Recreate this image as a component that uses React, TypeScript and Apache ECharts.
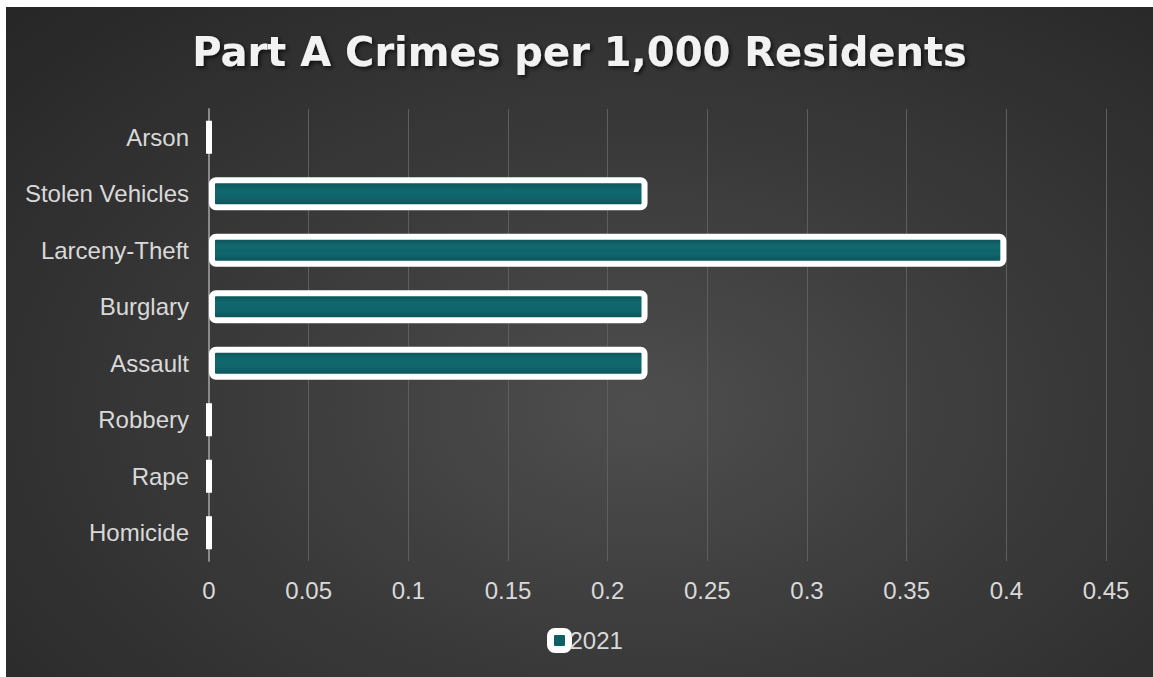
import React, { useEffect, useRef } from "react";
import * as echarts from "echarts";

const categories = ["Homicide", "Rape", "Robbery", "Assault", "Burglary", "Larceny-Theft", "Stolen Vehicles", "Arson"];
const values2021 = [0, 0, 0, 0.22, 0.22, 0.4, 0.22, 0];
const seriesName = "2021";
const titleText = "Part A Crimes per 1,000 Residents";

export default function App() {
  const ref = useRef<HTMLDivElement>(null);
  useEffect(() => {
    if (!ref.current) return;
    const chart = echarts.init(ref.current, null, { renderer: "svg" });
    const teal = "#0f5f67";
    chart.setOption({
      animation: false,
      title: {
        text: titleText,
        left: "center",
        top: 20,
        textStyle: {
          fontFamily: "DejaVu Sans",
          fontWeight: "bold",
          fontSize: 40,
          color: "#f2f2f2",
          textShadowColor: "rgba(0,0,0,0.7)",
          textShadowBlur: 4,
          textShadowOffsetX: 2,
          textShadowOffsetY: 2,
        },
      },
      legend: {
        data: [seriesName],
        left: 536,
        top: 616,
        icon: "roundRect",
        itemWidth: 18,
        itemHeight: 18,
        itemGap: 4,
        itemStyle: { color: teal, borderColor: "#ffffff", borderWidth: 7 },
        textStyle: { color: "#d9d9d9", fontSize: 24, fontFamily: "Liberation Sans", padding: [0, 0, 0, -4] },
      },
      grid: { left: 203, right: 47, top: 102, bottom: 116, containLabel: false },
      xAxis: {
        type: "value",
        min: 0,
        max: 0.45,
        interval: 0.05,
        axisLine: { show: false },
        axisTick: { show: false },
        splitLine: { show: true, lineStyle: { color: "#5e5e5e", width: 1 } },
        axisLabel: {
          color: "#d9d9d9",
          fontSize: 24,
          fontFamily: "Liberation Sans",
          margin: 17,
          formatter: (v: number) => String(Math.round(v * 100) / 100),
        },
      },
      yAxis: {
        type: "category",
        data: categories,
        axisLine: { show: true, lineStyle: { color: "#8a8a8a", width: 2 } },
        axisTick: { show: false },
        axisLabel: { color: "#d9d9d9", fontSize: 24, fontFamily: "Liberation Sans", margin: 20 },
      },
      series: [
        {
          name: seriesName,
          type: "bar",
          data: values2021,
          barWidth: 33,
          clip: true,
          itemStyle: {
            color: {
              type: "linear",
              x: 0,
              y: 0,
              x2: 0,
              y2: 1,
              colorStops: [
                { offset: 0, color: "#0b4d53" },
                { offset: 0.35, color: "#11686f" },
                { offset: 0.65, color: "#10646c" },
                { offset: 1, color: "#0b4d53" },
              ],
            },
            borderColor: "#ffffff",
            borderWidth: 6,
            borderRadius: 4,
          },
        },
      ],
    });
    return () => chart.dispose();
  }, []);
  return (
    <div
      ref={ref}
      style={{
        position: "absolute",
        left: 6,
        top: 7,
        width: 1147,
        height: 670,
        background: "radial-gradient(ellipse at 55% 60%, #4e4e4e 0%, #3a3a3a 45%, #262626 100%)",
      }}
    />
  );
}
